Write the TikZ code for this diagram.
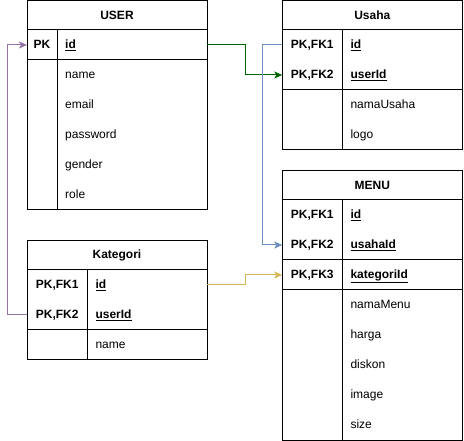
\documentclass[tikz,border=0pt]{standalone}
\usepackage{fontspec}
\setmainfont{Liberation Sans}
\usetikzlibrary{arrows.meta}
\definecolor{cgreen}{HTML}{006600}
\definecolor{cblue}{HTML}{6C8EBF}
\definecolor{cpurple}{HTML}{9673A6}
\definecolor{cyellow}{HTML}{D6B656}
\newcommand\erfs{\fontsize{12}{14}\selectfont}
\tikzset{
 sec/.style={draw, line width=1pt, minimum width=180pt, inner sep=0pt, outer sep=0pt, anchor=north west},
 hdr/.style={sec, font=\erfs\bfseries},
 fld/.style={anchor=west, inner sep=0pt, text height=9pt, text depth=2.5pt, font=\erfs},
 keyf/.style={fld, font=\erfs\bfseries},
 kc/.style={anchor=center, inner sep=0pt, text height=9pt, text depth=2.5pt, font=\erfs\bfseries},
 divl/.style={line width=1pt},
 link/.style={line width=1pt, -{Stealth[length=8pt,width=7pt,inset=2pt]}}
}
\begin{document}
\begin{tikzpicture}[x=1pt,y=-1pt]
\useasboundingbox (0,0) rectangle (464,441);
% USER
\node[hdr, minimum height=29.5pt] (user) at (27,0.5) {USER};
\node[sec, minimum height=30pt] (user-k) at (27,30) {};
\node[sec, minimum height=150pt] (user-b) at (27,60) {};
\draw[divl] (57,30) -- (57,210);
\node[kc] (user-pk) at (42,45) {PK};
\node[keyf] (user-id) at (65,45) {\underline{id}};
\node[fld] (user-name) at (65,75) {name};
\node[fld] (user-email) at (65,105) {email};
\node[fld] (user-pw) at (65,135) {password};
\node[fld] (user-gender) at (65,165) {gender};
\node[fld] (user-role) at (65,195) {role};
% Usaha
\node[hdr, minimum height=29.5pt] (usaha) at (282.3,0.5) {Usaha};
\node[sec, minimum height=60pt] (usaha-k) at (282.3,30) {};
\node[sec, minimum height=60pt] (usaha-b) at (282.3,90) {};
\draw[divl] (342.3,30) -- (342.3,150);
\node[kc] (usaha-pk1) at (312.3,45) {PK,FK1};
\node[kc] (usaha-pk2) at (312.3,75) {PK,FK2};
\node[keyf] (usaha-id) at (350.3,45) {\underline{id}};
\node[keyf] (usaha-uid) at (350.3,75) {\underline{userId}};
\node[fld] (usaha-nama) at (350.3,105) {namaUsaha};
\node[fld] (usaha-logo) at (350.3,135) {logo};
% Kategori
\node[hdr, minimum height=29.5pt] (kat) at (27,240.5) {Kategori};
\node[sec, minimum height=60pt] (kat-k) at (27,270) {};
\node[sec, minimum height=30pt] (kat-b) at (27,330) {};
\draw[divl] (87.3,270) -- (87.3,360);
\node[kc] (kat-pk1) at (57.2,285) {PK,FK1};
\node[kc] (kat-pk2) at (57.2,315) {PK,FK2};
\node[keyf] (kat-id) at (95.3,285) {\underline{id}};
\node[keyf] (kat-uid) at (95.3,315) {\underline{userId}};
\node[fld] (kat-name) at (95.3,345) {name};
% MENU
\node[hdr, minimum height=29.5pt] (menu) at (282.3,170.5) {MENU};
\node[sec, minimum height=60pt] (menu-k) at (282.3,200) {};
\node[sec, minimum height=30pt] (menu-k3) at (282.3,260) {};
\node[sec, minimum height=150pt] (menu-b) at (282.3,290) {};
\draw[divl] (342.3,200) -- (342.3,440);
\node[kc] (menu-pk1) at (312.3,215) {PK,FK1};
\node[kc] (menu-pk2) at (312.3,245) {PK,FK2};
\node[kc] (menu-pk3) at (312.3,275) {PK,FK3};
\node[keyf] (menu-id) at (350.3,215) {\underline{id}};
\node[keyf] (menu-uid) at (350.3,245) {\underline{usahaId}};
\node[keyf] (menu-kid) at (350.3,275) {\underline{kategoriId}};
\node[fld] (menu-nama) at (350.3,305) {namaMenu};
\node[fld] (menu-harga) at (350.3,335) {harga};
\node[fld] (menu-diskon) at (350.3,365) {diskon};
\node[fld] (menu-image) at (350.3,395) {image};
\node[fld] (menu-size) at (350.3,425) {size};
% connectors
\draw[link, cgreen] (user-id -| user-k.east) -- ++(38,0) |- (usaha-uid -| usaha-k.west);
\draw[link, cblue] (usaha-id -| usaha-k.west) -- ++(-19.6,0) |- (menu-uid -| menu-k.west);
\draw[link, cpurple] (kat-uid -| kat-k.west) -- ++(-20,0) |- (user-id -| user-k.west);
\draw[link, cyellow] (kat-id -| kat-k.east) -- ++(38,0) |- (menu-kid -| menu-k3.west);
\end{tikzpicture}
\end{document}
